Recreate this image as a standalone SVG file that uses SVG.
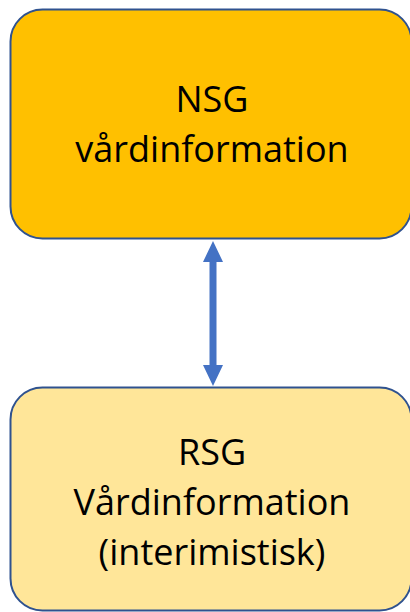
<svg xmlns="http://www.w3.org/2000/svg" width="410" height="612" viewBox="0 0 410 612">
<style>
.box{stroke:#2F528F;stroke-width:2}
.t{font-family:"Open Sans","Noto Sans",sans-serif;font-size:36px;fill:#000;text-anchor:middle}
</style>
<g id="connectors">
<polygon fill="#4472C4" points="213,241 223,262 216.5,262 216.5,365 223,365 213,386 203,365 209.5,365 209.5,262 203,262"/>
</g>
<g id="nsg">
<rect class="box" x="10.5" y="9.5" width="401" height="229" rx="32" fill="#FFC000"/>
<text class="t" x="212" y="112">NSG</text>
<text class="t" x="212" y="162">vårdinformation</text>
</g>
<g id="rsg">
<rect class="box" x="10.5" y="387.5" width="401" height="223" rx="32" fill="#FFE699"/>
<text class="t" x="212" y="465">RSG</text>
<text class="t" x="212" y="515">Vårdinformation</text>
<text class="t" x="212" y="565">(interimistisk)</text>
</g>
</svg>
